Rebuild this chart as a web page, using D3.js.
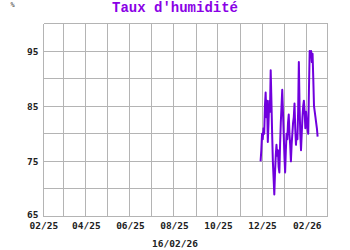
<!DOCTYPE html>
<html><head><meta charset="utf-8">
<script src="https://cdn.jsdelivr.net/npm/d3@7"></script>
<style>html,body{margin:0;padding:0;background:#fff;}svg{display:block;}</style>
</head><body>
<svg id="c" width="350" height="250"></svg>
<script>
const title = "Taux d'humidité";
const unitLabel = "%";
const dateLabel = "16/02/26";
const yTickValues = [65, 75, 85, 95];
const xTickLabels = ["02/25","04/25","06/25","08/25","10/25","12/25","02/26"];
const dates = ["2025-11-29","2025-11-30","2025-12-01","2025-12-02","2025-12-03","2025-12-04","2025-12-05","2025-12-06","2025-12-07","2025-12-08","2025-12-09","2025-12-10","2025-12-11","2025-12-12","2025-12-13","2025-12-14","2025-12-15","2025-12-16","2025-12-17","2025-12-18","2025-12-19","2025-12-20","2025-12-21","2025-12-22","2025-12-23","2025-12-24","2025-12-25","2025-12-26","2025-12-27","2025-12-28","2025-12-29","2025-12-30","2025-12-31","2026-01-01","2026-01-02","2026-01-03","2026-01-04","2026-01-05","2026-01-06","2026-01-07","2026-01-08","2026-01-09","2026-01-10","2026-01-11","2026-01-12","2026-01-13","2026-01-14","2026-01-15","2026-01-16","2026-01-17","2026-01-18","2026-01-19","2026-01-20","2026-01-21","2026-01-22","2026-01-23","2026-01-24","2026-01-25","2026-01-26","2026-01-27","2026-01-28","2026-01-29","2026-01-30","2026-01-31","2026-02-01","2026-02-02","2026-02-03","2026-02-04","2026-02-05","2026-02-06","2026-02-07","2026-02-08","2026-02-09","2026-02-10","2026-02-11","2026-02-12","2026-02-13","2026-02-14","2026-02-15","2026-02-16"];
const humidity = [75,77,80,79,81,80,85,87.5,83,86,78.5,82,86,84,91.5,86,80,75,72,69,73,76,78,76,77,74,73,78,82,85,88,84,80,76,73,77,80,79,82,83.5,80,78,75,78,80,82,83,85.5,81,78,80,79,84,93,85,80,77,80,83,85,86,84,81,84,82,81,80,88,95,94,95,93,94.5,90,85,84,83,82,81,79.5];

const parse = d3.timeParse("%Y-%m-%d");
const data = dates.map((d,i)=>({date: parse(d), value: humidity[i]}));

const svg = d3.select("#c");
const x = d3.scaleTime().domain([new Date(2025,1,1), new Date(2026,2,1)]).range([43.3, 327]);
const y = d3.scaleLinear().domain([65, 100]).range([216.5, 23.5]);
const px = v => Math.floor(v) + 0.5;

const grid = svg.append("g").attr("stroke", "#b4b4b4").attr("stroke-width", 1).attr("shape-rendering","crispEdges");
x.ticks(d3.timeMonth.every(1)).forEach(t => {
  grid.append("line").attr("x1", px(x(t))).attr("x2", px(x(t))).attr("y1", y(100)).attr("y2", y(65));
});
grid.append("line").attr("x1", px(x.range()[1])).attr("x2", px(x.range()[1])).attr("y1", y(100)).attr("y2", y(65));
d3.range(65, 101, 5).forEach(v => {
  grid.append("line").attr("x1", px(x.range()[0])).attr("x2", px(x.range()[1])).attr("y1", px(y(v))).attr("y2", px(y(v)));
});

const font = "'DejaVu Sans Mono', monospace";
const yAxis = d3.axisLeft(y).tickValues(yTickValues).tickSize(0).tickPadding(5).tickFormat(d3.format("d"));
const gy = svg.append("g").attr("transform", `translate(${px(x.range()[0])},0)`).call(yAxis);
gy.select(".domain").remove();
gy.selectAll("text").attr("font-family", font).attr("font-weight","bold").attr("font-size", "9.5px").attr("fill","#222");
gy.selectAll("text").filter(d => d === 65).attr("dy", "0.1em");

const parseTick = d3.timeParse("%m/%y");
const xTicks = xTickLabels.map(parseTick);
const xAxis = d3.axisBottom(x).tickValues(xTicks).tickSize(0).tickPadding(0)
  .tickFormat((d,i) => xTickLabels[i]);
const gx = svg.append("g").attr("transform", `translate(0,222)`).call(xAxis);
gx.select(".domain").remove();
gx.selectAll("text").attr("font-family", font).attr("font-weight","bold").attr("font-size", "9.5px").attr("fill","#222");

svg.append("path").datum(data)
  .attr("fill","none").attr("stroke","#7000dd").attr("stroke-width",2).attr("stroke-linejoin","round")
  .attr("d", d3.line().x(d=>x(d.date)).y(d=>y(d.value)));

svg.append("text").attr("x", 175).attr("y", 11.5).attr("text-anchor","middle")
  .attr("font-family","'Liberation Mono', monospace").attr("font-weight","bold").attr("font-size","14px")
  .attr("fill","#8a00e6").text(title);
svg.append("text").attr("x", 12.5).attr("y", 7).attr("text-anchor","middle")
  .attr("font-family", font).attr("font-size","7px").attr("fill","#444").text(unitLabel);
svg.append("text").attr("x", 175).attr("y", 247).attr("text-anchor","middle")
  .attr("font-family", font).attr("font-weight","bold").attr("font-size","9.5px").attr("fill","#222").text(dateLabel);
</script>
</body></html>
